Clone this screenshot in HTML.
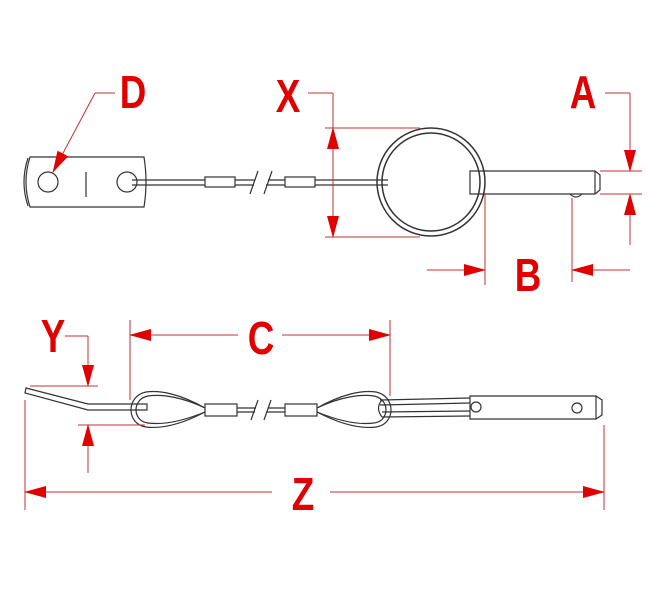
<!DOCTYPE html>
<html><head><meta charset="utf-8"><style>
html,body{margin:0;padding:0;background:#fff;}
svg{display:block;}
text{font-family:"Liberation Sans",sans-serif;font-size:46px;font-weight:bold;fill:#e00000;text-anchor:middle;dominant-baseline:central;}
</style></head><body>
<svg width="650" height="599" viewBox="0 0 650 599" xmlns="http://www.w3.org/2000/svg">
<defs>
<marker id="ar" markerWidth="22" markerHeight="12" refX="21" refY="6" orient="auto" markerUnits="userSpaceOnUse">
<path d="M0,0 L22,6 L0,12 Z" fill="#e00000"/></marker>
</defs>
<rect width="650" height="599" fill="#fff"/>
<g fill="none" stroke="#333" stroke-width="1.2">
  <path d="M30,157 L144,157 Q148,182 144,207 L30,207 Q22,182 30,157 Z"/>
  <path d="M28,158 Q20,182 28,206"/>
  <circle cx="48" cy="182" r="10"/>
  <circle cx="127" cy="182" r="10"/>
  <line x1="86" y1="172" x2="86" y2="197"/>
  <path d="M132,180 L205,180 M132,185 L205,185"/>
  <rect x="205" y="177" width="30" height="10"/>
  <path d="M235,180 L255,180 M235,185 L254,185 M268,180 L285,180 M266,185 L285,185"/>
  <line x1="250" y1="194" x2="258" y2="171"/>
  <line x1="264" y1="194" x2="272" y2="171"/>
  <rect x="285" y="177" width="30" height="10"/>
  <path d="M315,180 L388,180 M315,185 L388,185"/>
  <circle cx="431" cy="182" r="54" stroke-width="1.5"/>
  <circle cx="431" cy="182" r="49" stroke-width="1.5"/>
  <path d="M470,171 L595,171 L600,175 L600,190 L595,194 L470,194 Z"/>
  <line x1="595" y1="171" x2="595" y2="194"/>
  <path d="M570,194 Q576,200 582,194"/>
</g>
<g stroke="#c43030" stroke-width="1" fill="none">
  <line x1="325" y1="128" x2="420" y2="128"/>
  <line x1="325" y1="237" x2="420" y2="237"/>
  <line x1="308" y1="93" x2="333" y2="93"/>
  <line x1="333" y1="93" x2="333" y2="128"/>
  <line x1="333" y1="182" x2="333" y2="128" marker-end="url(#ar)"/>
  <line x1="333" y1="182" x2="333" y2="237" marker-end="url(#ar)"/>
  <line x1="605" y1="93" x2="630" y2="93"/>
  <line x1="630" y1="93" x2="630" y2="171" marker-end="url(#ar)"/>
  <line x1="630" y1="245" x2="630" y2="194" marker-end="url(#ar)"/>
  <line x1="600" y1="171" x2="642" y2="171"/>
  <line x1="600" y1="194" x2="642" y2="194"/>
  <line x1="485" y1="194" x2="485" y2="285"/>
  <line x1="572" y1="198" x2="572" y2="282"/>
  <line x1="427" y1="270" x2="485" y2="270" marker-end="url(#ar)"/>
  <line x1="630" y1="270" x2="572" y2="270" marker-end="url(#ar)"/>
  <line x1="115" y1="93" x2="95" y2="93"/>
  <line x1="95" y1="93" x2="53" y2="172" marker-end="url(#ar)"/>
</g>
<text transform="translate(133,92) scale(0.8,1)">D</text>
<text transform="translate(288,96) scale(0.8,1)">X</text>
<text transform="translate(583,92) scale(0.8,1)">A</text>
<text transform="translate(528,275) scale(0.8,1)">B</text>
<g fill="none" stroke="#333" stroke-width="1.2">
  <path d="M26,388 L88,404 L147,404 L147,410 L88,410 L25,393 Z"/>
  <path d="M205,408 C180,394 160,390 146,392 C126,396 126,424 146,427 C162,429 182,424 205,412"/>
  <path d="M205,408 C182,397 162,394 148,396 C132,399 132,421 148,423 C163,425 183,421 205,412"/>
  <rect x="205" y="404" width="32" height="12"/>
  <path d="M237,408 L256,408 M237,412 L255,412 M268,408 L285,408 M267,412 L285,412"/>
  <line x1="251" y1="420" x2="258" y2="400"/>
  <line x1="264" y1="420" x2="271" y2="400"/>
  <rect x="285" y="404" width="32" height="12"/>
  <path d="M317,408 C342,394 362,390 376,392 C396,396 396,424 376,427 C360,429 340,424 317,412"/>
  <path d="M317,408 C340,397 360,394 374,396 C390,399 390,421 374,423 C359,425 339,421 317,412"/>
  <path d="M380,400 L470,398 M380,405 L470,403 M382,412 L470,411 M382,417 L470,416"/>
  <path d="M382,400 Q375,408 382,417"/>
  <circle cx="476" cy="407" r="5"/>
  <path d="M470,396 L596,396 L602,400 L602,415 L596,419 L470,419 Z"/>
  <line x1="596" y1="396" x2="596" y2="419"/>
  <circle cx="577" cy="408" r="5"/>
</g>
<g stroke="#c43030" stroke-width="1" fill="none">
  <line x1="65" y1="336" x2="88" y2="336"/>
  <line x1="88" y1="336" x2="88" y2="386" marker-end="url(#ar)"/>
  <line x1="88" y1="473" x2="88" y2="425" marker-end="url(#ar)"/>
  <line x1="30" y1="386" x2="98" y2="386"/>
  <line x1="78" y1="425" x2="145" y2="425"/>
  <line x1="130" y1="320" x2="130" y2="400"/>
  <line x1="390" y1="320" x2="390" y2="396"/>
  <line x1="238" y1="335" x2="130" y2="335" marker-end="url(#ar)"/>
  <line x1="282" y1="335" x2="390" y2="335" marker-end="url(#ar)"/>
  <line x1="25" y1="400" x2="25" y2="510"/>
  <line x1="604" y1="425" x2="604" y2="510"/>
  <line x1="272" y1="492" x2="25" y2="492" marker-end="url(#ar)"/>
  <line x1="330" y1="492" x2="604" y2="492" marker-end="url(#ar)"/>
</g>
<text transform="translate(53,336) scale(0.8,1)">Y</text>
<text transform="translate(261,338) scale(0.8,1)">C</text>
<text transform="translate(303,494) scale(0.8,1)">Z</text>
</svg>
</body></html>
